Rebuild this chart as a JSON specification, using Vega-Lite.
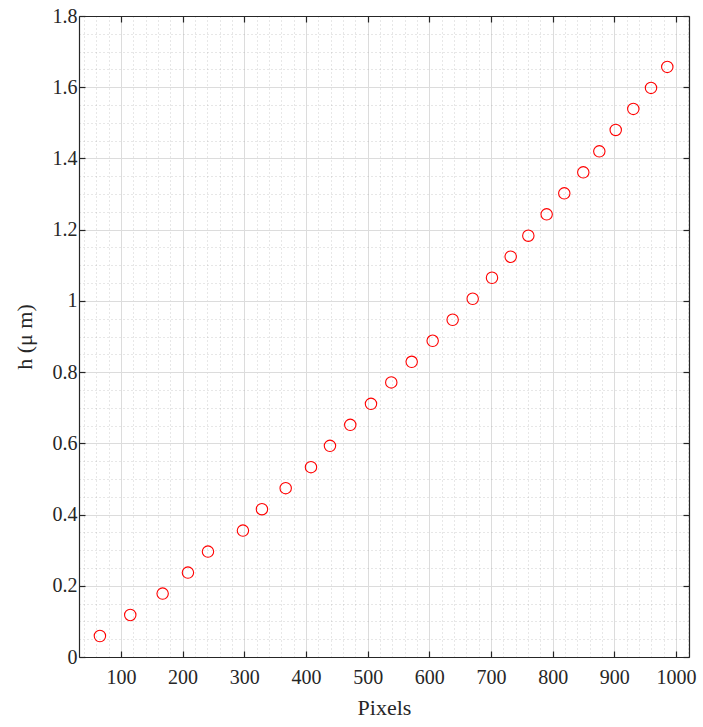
{
  "$schema": "https://vega.github.io/schema/vega-lite/v6.json",
  "autosize": "none",
  "width": 610,
  "height": 641,
  "padding": {"left": 79, "top": 16, "right": 14, "bottom": 70},
  "background": "white",
  "config": {
    "view": {"stroke": null},
    "font": "'Liberation Serif', 'DejaVu Serif', serif"
  },
  "data": {
    "values": [
      {"px": 65.9, "h": 0.059},
      {"px": 115.1, "h": 0.118},
      {"px": 167.6, "h": 0.178},
      {"px": 208.6, "h": 0.237},
      {"px": 241.1, "h": 0.296},
      {"px": 297.8, "h": 0.355},
      {"px": 328.6, "h": 0.415},
      {"px": 367.1, "h": 0.474},
      {"px": 408.1, "h": 0.533},
      {"px": 438.9, "h": 0.593},
      {"px": 471.8, "h": 0.652},
      {"px": 505.4, "h": 0.711},
      {"px": 538.3, "h": 0.771},
      {"px": 571.4, "h": 0.829},
      {"px": 605.4, "h": 0.888},
      {"px": 637.8, "h": 0.947},
      {"px": 670.3, "h": 1.006},
      {"px": 701.6, "h": 1.065},
      {"px": 731.9, "h": 1.124},
      {"px": 760.5, "h": 1.183},
      {"px": 790.2, "h": 1.243},
      {"px": 818.8, "h": 1.302},
      {"px": 849.6, "h": 1.361},
      {"px": 875.6, "h": 1.420},
      {"px": 902.2, "h": 1.480},
      {"px": 930.7, "h": 1.539},
      {"px": 959.4, "h": 1.598},
      {"px": 985.8, "h": 1.657}
    ]
  },
  "resolve": {"axis": {"x": "independent", "y": "independent"}},
  "layer": [
    {
      "mark": {"type": "point", "opacity": 0},
      "encoding": {
        "x": {"field": "px", "type": "quantitative", "scale": {"domain": [32, 1021], "nice": false, "zero": false},
          "axis": {"orient": "bottom", "values": [40,60,80,120,140,160,180,220,240,260,280,320,340,360,380,420,440,460,480,520,540,560,580,620,640,660,680,720,740,760,780,820,840,860,880,920,940,960,980,1020],
            "grid": true, "gridColor": "#a0a0a0", "gridDash": [1, 3], "gridWidth": 1, "gridOpacity": 0.5,
            "labels": false, "ticks": false, "domain": false, "title": null}},
        "y": {"field": "h", "type": "quantitative", "scale": {"domain": [0, 1.8], "nice": false},
          "axis": {"orient": "left", "values": [0.05,0.1,0.15,0.25,0.3,0.35,0.45,0.5,0.55,0.65,0.7,0.75,0.85,0.9,0.95,1.05,1.1,1.15,1.25,1.3,1.35,1.45,1.5,1.55,1.65,1.7,1.75],
            "grid": true, "gridColor": "#a0a0a0", "gridDash": [1, 3], "gridWidth": 1, "gridOpacity": 0.5,
            "labels": false, "ticks": false, "domain": false, "title": null}}
      }
    },
    {
      "mark": {"type": "point", "shape": "circle", "filled": false, "color": "#ff0000", "strokeWidth": 1.1, "size": 130, "opacity": 1},
      "encoding": {
        "x": {"field": "px", "type": "quantitative", "scale": {"domain": [32, 1021], "nice": false, "zero": false},
          "axis": {"orient": "bottom", "values": [100,200,300,400,500,600,700,800,900,1000], "format": "d",
            "grid": true, "gridColor": "#dcdcdc", "gridWidth": 1,
            "domainColor": "#262626", "domainWidth": 1.2, "tickColor": "#262626", "tickSize": -6, "tickWidth": 1.2,
            "labelFont": "'Liberation Serif', 'DejaVu Serif', serif", "labelFontSize": 20, "labelColor": "#262626", "labelPadding": 16,
            "title": "Pixels", "titleFont": "'Liberation Serif', 'DejaVu Serif', serif", "titleFontSize": 22, "titleFontWeight": "normal", "titleColor": "#262626", "titlePadding": 10}},
        "y": {"field": "h", "type": "quantitative", "scale": {"domain": [0, 1.8], "nice": false},
          "axis": {"orient": "left", "values": [0,0.2,0.4,0.6,0.8,1,1.2,1.4,1.6,1.8], "format": ".1~f",
            "grid": true, "gridColor": "#dcdcdc", "gridWidth": 1,
            "domainColor": "#262626", "domainWidth": 1.2, "tickColor": "#262626", "tickSize": -6, "tickWidth": 1.2,
            "labelFont": "'Liberation Serif', 'DejaVu Serif', serif", "labelFontSize": 20, "labelColor": "#262626", "labelPadding": 8,
            "title": "h (μ m)", "titleFont": "'Liberation Serif', 'DejaVu Serif', serif", "titleFontSize": 22, "titleFontWeight": "normal", "titleColor": "#262626", "titlePadding": 16}}
      }
    },
    {
      "mark": {"type": "point", "opacity": 0},
      "encoding": {
        "x": {"field": "px", "type": "quantitative", "scale": {"domain": [32, 1021], "nice": false, "zero": false},
          "axis": {"orient": "top", "values": [100,200,300,400,500,600,700,800,900,1000],
            "grid": false, "labels": false, "title": null,
            "domainColor": "#262626", "domainWidth": 1.2, "tickColor": "#262626", "tickSize": -6, "tickWidth": 1.2}},
        "y": {"field": "h", "type": "quantitative", "scale": {"domain": [0, 1.8], "nice": false},
          "axis": {"orient": "right", "values": [0,0.2,0.4,0.6,0.8,1,1.2,1.4,1.6,1.8],
            "grid": false, "labels": false, "title": null,
            "domainColor": "#262626", "domainWidth": 1.2, "tickColor": "#262626", "tickSize": -6, "tickWidth": 1.2}}
      }
    }
  ]
}
